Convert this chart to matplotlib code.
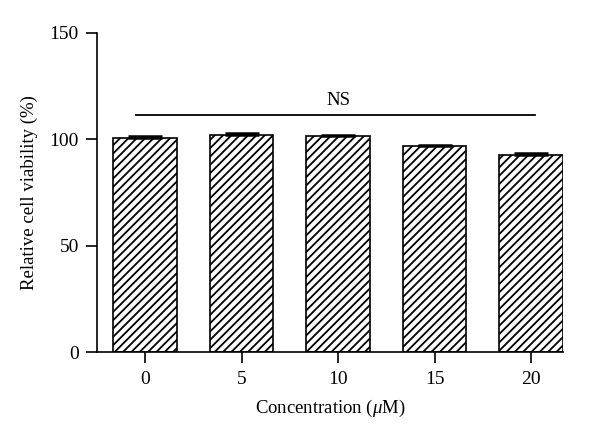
import matplotlib
matplotlib.use("Agg")
import matplotlib.pyplot as plt
import numpy as np

categories = ["0", "5", "10", "15", "20"]
viability = [100.5, 102.0, 101.2, 96.8, 92.6]
errors = [0.9, 0.6, 0.5, 0.6, 0.6]
ns_level = 111.3
ns_label = "NS"

plt.rcParams['font.family'] = ['Liberation Serif', 'DejaVu Serif']
plt.rcParams['mathtext.fontset'] = 'custom'
plt.rcParams['mathtext.it'] = 'Liberation Serif:italic'
plt.rcParams['mathtext.rm'] = 'Liberation Serif'
plt.rcParams['hatch.linewidth'] = 1.3

fig = plt.figure(figsize=(6.0, 4.41), dpi=100)
ax = fig.add_axes([0.1617, 0.2018, 0.7763, 0.7245])

x = np.arange(len(categories))
ax.bar(x, viability, width=0.66, color='white', edgecolor='black',
       hatch='////', linewidth=1.2, zorder=2)
ax.errorbar(x, viability, yerr=[np.zeros(len(errors)), errors], fmt='none',
            ecolor='black', elinewidth=1.2, capsize=12.5, capthick=1.8, zorder=3)

ax.plot([x[0] - 0.1, x[-1] + 0.04], [ns_level, ns_level], color='black', lw=1.3)
ax.text((x[0] + x[-1]) / 2, ns_level + 3, ns_label, ha='center', va='bottom',
        fontsize=13.5)

ax.set_xlim(-0.5, 4.33)
ax.set_ylim(0, 150)
ax.set_yticks([0, 50, 100, 150])
ax.set_xticks(x)
ax.set_xticklabels(categories)
ax.spines['top'].set_visible(False)
ax.spines['right'].set_visible(False)
for s in ['left', 'bottom']:
    ax.spines[s].set_linewidth(1.2)
ax.tick_params(axis='both', direction='out', length=8, width=1.2, labelsize=14, pad=6)
ax.tick_params(axis='y', pad=5)

ax.set_ylabel("Relative cell viability (%)", fontsize=13.5, labelpad=8)
ax.set_xlabel(r"Concentration ($\mu$M)", fontsize=13.5, labelpad=7)

fig.savefig("out.png", dpi=100)
